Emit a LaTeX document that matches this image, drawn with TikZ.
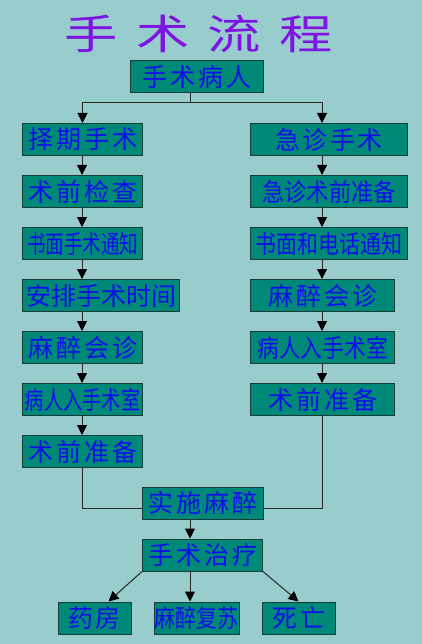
\documentclass[tikz,border=0pt]{standalone}
\usepackage{fontspec}
\usepackage{graphicx}
\newfontfamily\cjk{Noto Sans CJK SC}
\usetikzlibrary{arrows.meta, positioning}
\definecolor{bgc}{RGB}{153,204,204}
\definecolor{boxc}{RGB}{0,136,120}
\definecolor{edgec}{RGB}{25,60,55}
\definecolor{inkc}{RGB}{15,15,235}
\definecolor{titlec}{RGB}{125,20,225}
\definecolor{wirec}{RGB}{40,40,40}
\makeatletter
\newcommand\spread[2]{%
  \let\spr@sep\relax
  \@tfor\spr@c:=#2\do{\spr@sep\spr@c\def\spr@sep{\hspace{#1}}}}
\makeatother
\tikzset{
  stage/.style={draw=edgec, line width=1pt, fill=boxc, text=inkc, inner sep=0pt,
                minimum height=32pt, minimum width=#1,
                font=\cjk\fontsize{25}{25}\selectfont},
  stage/.default=120pt,
  sig/.style={-{Triangle[width=10pt,length=10pt,color=black]}, wirec, line width=1pt},
  wire/.style={wirec, line width=1pt},
}

\begin{document}
\begin{tikzpicture}[x=1pt, y=-1pt, node distance=19pt]
  \fill[bgc] (0,0) rectangle (422,644);
  \coordinate (laxis) at (82,0);
  \coordinate (maxis) at (190,0);
  \coordinate (raxis) at (322,0);
  \coordinate (split) at (190,103);
  \node[text=titlec, font=\cjk\fontsize{41}{41}\selectfont] (title) at (198.5,33.5)
    {\scalebox{1.3}[1]{\spread{14pt}{手术流程}}};
  \node[stage=133pt] (patient) at (196.5,76.5) {\spread{3pt}{手术病人}};
  % elective branch
  \node[stage, anchor=north west] (l1) at (22,123) {\spread{3pt}{择期手术}};
  \node[stage, below=of l1.south west, anchor=north west] (l2) {\spread{3pt}{术前检查}};
  \node[stage, below=of l2.south west, anchor=north west] (l3) {\scalebox{0.74}[1]{书面手术通知}};
  \node[stage=157pt, below=of l3.south west, anchor=north west] (l4) {安排手术时间};
  \node[stage, below=of l4.south west, anchor=north west] (l5) {\spread{3pt}{麻醉会诊}};
  \node[stage, below=of l5.south west, anchor=north west] (l6) {\scalebox{0.77}[1]{病人入手术室}};
  \node[stage, below=of l6.south west, anchor=north west] (l7) {\spread{3pt}{术前准备}};
  % emergency branch
  \node[stage=157pt, anchor=north west] (r1) at (250,123) {\spread{2.5pt}{急诊手术}};
  \node[stage=157pt, below=of r1.south west, anchor=north west] (r2) {\scalebox{0.89}[1]{急诊术前准备}};
  \node[stage=157pt, below=of r2.south west, anchor=north west] (r3) {\scalebox{0.84}[1]{书面和电话通知}};
  \node[stage=144pt, below=of r3.south west, anchor=north west] (r4) {\spread{3pt}{麻醉会诊}};
  \node[stage=144pt, below=of r4.south west, anchor=north west] (r5) {\scalebox{0.87}[1]{病人入手术室}};
  \node[stage=144pt, below=of r5.south west, anchor=north west] (r6) {\spread{3pt}{术前准备}};
  % joint part
  \node[stage=121pt] (anest) at (202.5,503) {\spread{3pt}{实施麻醉}};
  \node[stage, below=of anest] (treat) {\spread{3pt}{手术治疗}};
  \node[stage=73pt] (pharm) at (94.5,618) {\spread{2pt}{药房}};
  \node[stage=85pt] (recov) at (196.5,618) {\scalebox{0.84}[1]{麻醉复苏}};
  \node[stage=73pt] (death) at (298.5,618) {\spread{3pt}{死亡}};

  \draw[wire] (patient.south -| split) -- (split);
  \draw[sig] (split) -| (l1.north);
  \draw[sig] (split) -| (r1.north -| raxis);
  \foreach \a/\b in {l1/l2, l2/l3, l3/l4, l4/l5, l5/l6, l6/l7}
    \draw[sig] (\a.south -| laxis) -- (\b.north -| laxis);
  \foreach \a/\b in {r1/r2, r2/r3, r3/r4, r4/r5, r5/r6}
    \draw[sig] (\a.south -| raxis) -- (\b.north -| raxis);
  \draw[wire] (l7.south -| laxis) |- ([yshift=-5pt]anest.west);
  \draw[wire] (r6.south -| raxis) |- ([yshift=-5pt]anest.east);
  \draw[sig] (anest.south -| maxis) -- (treat.north -| maxis);
  \draw[sig] (treat.south west) -- ([xshift=14pt]pharm.north);
  \draw[sig] (treat.south -| maxis) -- (recov.north -| maxis);
  \draw[sig] (treat.south east) -- (death.north);
\end{tikzpicture}
\end{document}
